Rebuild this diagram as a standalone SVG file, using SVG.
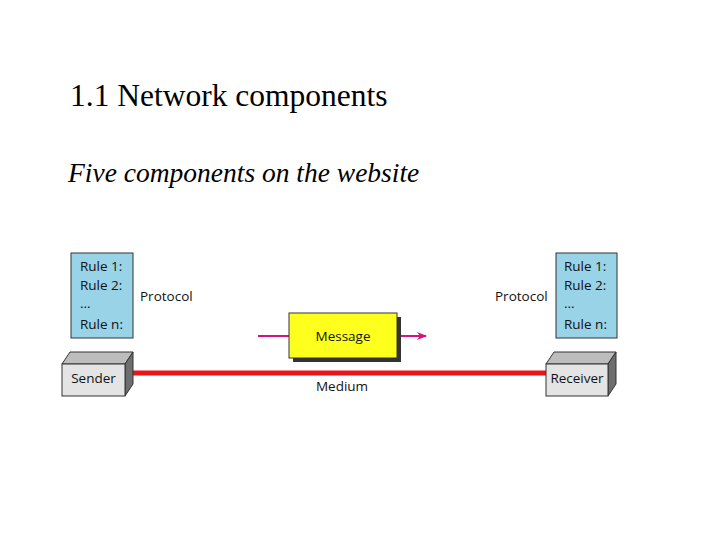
<svg xmlns="http://www.w3.org/2000/svg" width="720" height="540" viewBox="0 0 720 540">
<style>
.t{font-family:"Liberation Serif",serif;fill:#000}
.s{font-family:"Open Sans","DejaVu Sans",sans-serif;font-size:13.5px;fill:#111}
.rule{fill:#99d3e8;stroke:#333;stroke-width:1}
.front{fill:#e4e4e4;stroke:#333}
.top{fill:#bdbdbd;stroke:#333}
.side{fill:#6e6e6e;stroke:#333}
</style>
<defs><marker id="ah" markerWidth="10" markerHeight="8" refX="9" refY="4" orient="auto" markerUnits="userSpaceOnUse"><path d="M0,0 L10,4 L0,8 L3,4 Z" fill="#d4137f"/></marker></defs>
<rect width="720" height="540" fill="#fff"/>
<text class="t" x="70" y="106" font-size="31.5">1.1 Network components</text>
<text class="t" x="68" y="182" font-size="27.5" font-style="italic">Five components on the website</text>
<g id="connectors">
<line x1="130" y1="373" x2="548" y2="373" stroke="#e8141c" stroke-width="5"/>
<line x1="258" y1="336" x2="289" y2="336" stroke="#d4137f" stroke-width="2"/>
<line x1="397" y1="336" x2="426" y2="336" stroke="#d4137f" stroke-width="2" marker-end="url(#ah)"/>
</g>
<g id="protocol-left">
<rect class="rule" x="71" y="253" width="62" height="85"/>
<text class="s" x="80" y="271">Rule 1:</text><text class="s" x="80" y="290">Rule 2:</text><text class="s" x="80" y="308">...</text><text class="s" x="80" y="329">Rule n:</text>
<text class="s" x="140" y="301">Protocol</text>
</g>
<g id="protocol-right">
<rect class="rule" x="556" y="253" width="61" height="85"/>
<text class="s" x="564" y="271">Rule 1:</text><text class="s" x="564" y="290">Rule 2:</text><text class="s" x="564" y="308">...</text><text class="s" x="564" y="329">Rule n:</text>
<text class="s" x="495" y="301">Protocol</text>
</g>
<g id="sender">
<path class="top" d="M62,364 L70,352 L133,352 L125,364 Z"/>
<path class="side" d="M125,364 L133,352 L133,384 L125,396 Z"/>
<rect class="front" x="62" y="364" width="63" height="32"/>
<text class="s" x="93.5" y="383" text-anchor="middle">Sender</text>
</g>
<g id="receiver">
<path class="top" d="M546,364 L554,352 L616,352 L608,364 Z"/>
<path class="side" d="M608,364 L616,352 L616,384 L608,396 Z"/>
<rect class="front" x="546" y="364" width="62" height="32"/>
<text class="s" x="577" y="383" text-anchor="middle">Receiver</text>
</g>
<g id="message">
<rect x="293" y="317" width="108" height="45" fill="#333"/>
<rect x="289" y="313" width="108" height="45" fill="#ffff1e" stroke="#333"/>
<text class="s" x="343" y="341" text-anchor="middle">Message</text>
</g>
<g id="medium"><text class="s" x="342" y="391" text-anchor="middle">Medium</text></g>
</svg>
